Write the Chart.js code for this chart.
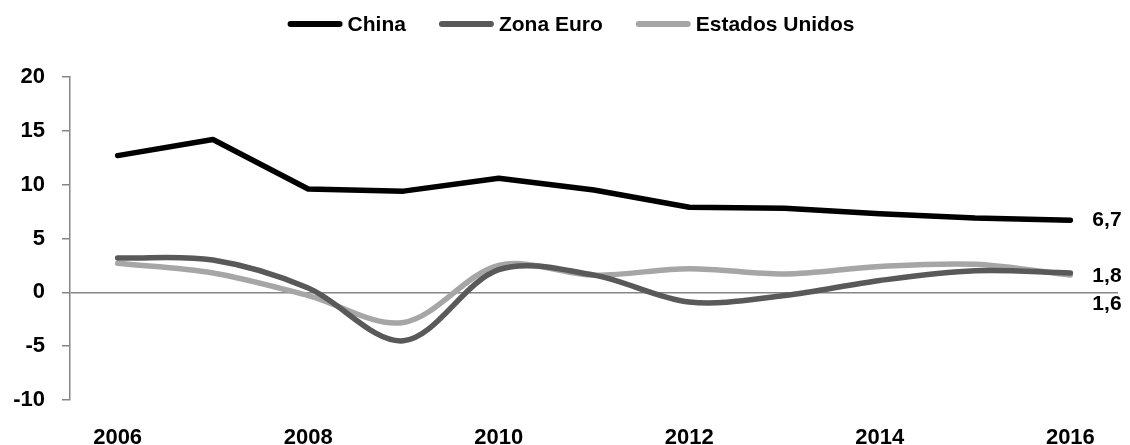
<!DOCTYPE html>
<html><head><meta charset="utf-8">
<script src="https://cdn.jsdelivr.net/npm/chart.js@4.4.1/dist/chart.umd.min.js"></script>
<style>html,body{margin:0;padding:0;background:#fff}#wrap{width:1130px;height:445px}</style>
</head><body><div id="wrap"><canvas id="c" width="1130" height="445"></canvas></div>
<script>
const years = ['2006','2007','2008','2009','2010','2011','2012','2013','2014','2015','2016'];
const china = [12.7,14.2,9.6,9.4,10.6,9.5,7.9,7.8,7.3,6.9,6.7];
const zonaEuro = [3.2,3.0,0.4,-4.5,2.1,1.6,-0.9,-0.3,1.1,2.0,1.8];
const estadosUnidos = [2.7,1.8,-0.3,-2.8,2.5,1.6,2.2,1.7,2.4,2.6,1.6];
const yMin = -10, yMax = 20, yStep = 5;

const FONT = "'Liberation Sans', Arial, sans-serif";

const endLabels = {
  id: 'endLabels',
  afterDatasetsDraw(chart) {
    const ctx = chart.ctx;
    const offsets = [0, 3, 29];
    ctx.save();
    ctx.font = 'bold 21px ' + FONT;
    ctx.fillStyle = '#000';
    ctx.textAlign = 'left';
    ctx.textBaseline = 'middle';
    chart.data.datasets.forEach((ds, i) => {
      const meta = chart.getDatasetMeta(i);
      const pt = meta.data[meta.data.length - 1];
      const v = ds.data[ds.data.length - 1];
      ctx.fillText(v.toFixed(1).replace('.', ','), pt.x + 22, pt.y + offsets[i]);
    });
    ctx.restore();
  }
};

const customLegend = {
  id: 'customLegend',
  afterDraw(chart) {
    const ctx = chart.ctx;
    const lineLen = 55, textGap = 5, itemGap = 33, y = 24;
    ctx.save();
    ctx.font = 'bold 21px ' + FONT;
    ctx.textBaseline = 'middle';
    ctx.textAlign = 'left';
    const items = chart.data.datasets.map(ds => ({text: ds.label, color: ds.borderColor, w: ctx.measureText(ds.label).width}));
    let total = 0;
    items.forEach((it, i) => { total += lineLen + textGap + it.w + (i > 0 ? itemGap : 0); });
    let x = 571 - total / 2;
    items.forEach(it => {
      ctx.strokeStyle = it.color;
      ctx.lineWidth = 6;
      ctx.lineCap = 'round';
      ctx.beginPath();
      ctx.moveTo(x + 3, y);
      ctx.lineTo(x + lineLen - 3, y);
      ctx.stroke();
      ctx.fillStyle = '#000';
      ctx.fillText(it.text, x + lineLen + textGap, y + 1);
      x += lineLen + textGap + it.w + itemGap;
    });
    ctx.restore();
  }
};

new Chart(document.getElementById('c'), {
  type: 'line',
  data: {
    labels: years,
    datasets: [
      {label: 'China', data: china, borderColor: '#000000', backgroundColor: '#000000', borderWidth: 5.5, tension: 0, pointRadius: 0, borderCapStyle: 'round', borderJoinStyle: 'round'},
      {label: 'Zona Euro', data: zonaEuro, borderColor: '#595959', backgroundColor: '#595959', borderWidth: 5.5, tension: 0.33, pointRadius: 0, borderCapStyle: 'round', borderJoinStyle: 'round'},
      {label: 'Estados Unidos', data: estadosUnidos, borderColor: '#A6A6A6', backgroundColor: '#A6A6A6', borderWidth: 5.5, tension: 0.33, pointRadius: 0, borderCapStyle: 'round', borderJoinStyle: 'round'}
    ]
  },
  options: {
    responsive: false,
    animation: false,
    layout: {padding: {top: 77, right: 12, left: 0, bottom: 0}},
    plugins: {
      legend: {display: false},
      tooltip: {enabled: false}
    },
    scales: {
      x: {
        type: 'category',
        offset: true,
        grid: {display: false, drawTicks: false},
        border: {display: false},
        ticks: {
          autoSkip: false,
          maxRotation: 0,
          padding: 25,
          color: '#000',
          font: {family: FONT, size: 22, weight: 'bold'},
          callback: function(val, idx) { return idx % 2 === 0 ? this.getLabelForValue(val) : ''; }
        },
        afterFit: s => { s.height = 45; }
      },
      y: {
        min: yMin, max: yMax,
        grid: {
          drawOnChartArea: true,
          color: ctx => (ctx.tick && ctx.tick.value === 0) ? '#868686' : 'rgba(0,0,0,0)',
          lineWidth: 1.5,
          tickColor: '#868686',
          tickLength: 8,
          drawTicks: true
        },
        border: {display: true, color: '#868686', width: 1.5},
        ticks: {
          stepSize: yStep,
          padding: 17,
          color: '#000',
          font: {family: FONT, size: 22, weight: 'bold'}
        },
        afterFit: s => { s.width = 70; }
      }
    }
  },
  plugins: [endLabels, customLegend]
});
</script>
</body></html>
